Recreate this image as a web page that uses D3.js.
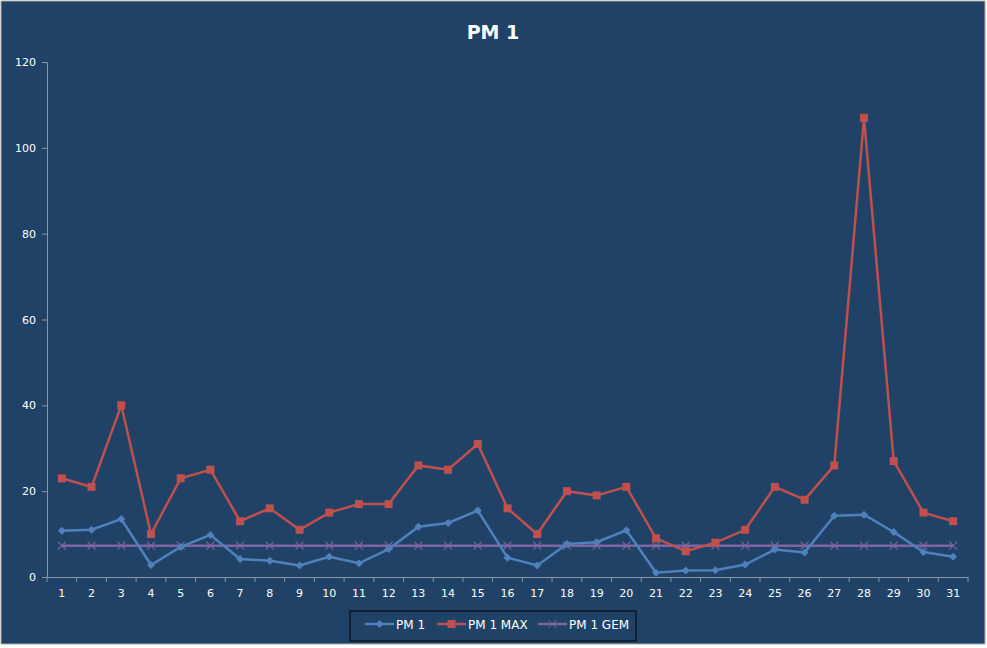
<!DOCTYPE html><html><head><meta charset="utf-8"><script src="https://cdn.jsdelivr.net/npm/d3@7"></script>
<style>body{margin:0;background:#fff}text{font-family:"DejaVu Sans",sans-serif}</style></head><body>
<svg id="c" width="987" height="648"></svg>
<script>
const days=d3.range(1,32);
const pm1=[10.8,11,13.5,2.8,7,9.8,4.2,3.8,2.7,4.7,3.2,6.5,11.7,12.6,15.5,4.5,2.7,7.7,8.1,10.9,1,1.5,1.6,2.9,6.4,5.7,14.3,14.5,10.5,5.8,4.7];
const pm1max=[23,21,40,10,23,25,13,16,11,15,17,17,26,25,31,16,10,20,19,21,9,6,8,11,21,18,26,107,27,15,13];
const pm1gem=days.map(()=>7.3);
const yTicks=[0,20,40,60,80,100,120];
const svg=d3.select("#c");
svg.append("rect").attr("x",1).attr("y",1).attr("width",984).attr("height",643).attr("fill","#1f4266").attr("stroke","#aaa");
svg.append("text").attr("x",493).attr("y",39).attr("text-anchor","middle").attr("fill","#fff").attr("font-size",19).attr("font-weight","bold").text("PM 1");
const x=d3.scaleBand().domain(days).range([47,968]);
const y=d3.scaleLinear().domain([0,120]).range([577,62]);
const cx=d=>x(d)+x.bandwidth()/2;
const ya=svg.append("g").attr("transform","translate(47,0)").call(d3.axisLeft(y).tickValues(yTicks).tickSize(5).tickPadding(6));
const xa=svg.append("g").attr("transform","translate(0,577)").call(d3.axisBottom(x).tickSize(0).tickPadding(12));
[ya,xa].forEach(a=>{a.selectAll("path").attr("stroke","#8a96a5");a.selectAll("line").attr("stroke","#8a96a5");a.selectAll("text").attr("fill","#fff").attr("font-size",11);});
xa.selectAll(".bt").data(d3.range(32)).enter().append("line").attr("x1",i=>47+i*x.step()).attr("x2",i=>47+i*x.step()).attr("y1",0).attr("y2",5).attr("stroke","#8a96a5");
const line=d3.line().x((d,i)=>cx(days[i])).y(d=>y(d));
function series(data,col,marker){
 svg.append("path").attr("d",line(data)).attr("fill","none").attr("stroke",col).attr("stroke-width",2.5);
 const g=svg.append("g");
 data.forEach((v,i)=>{const px=cx(days[i]),py=y(v);
  if(marker==="d")g.append("path").attr("d",`M${px},${py-4}L${px+4},${py}L${px},${py+4}L${px-4},${py}Z`).attr("fill",col);
  else if(marker==="s")g.append("rect").attr("x",px-4).attr("y",py-4).attr("width",8).attr("height",8).attr("fill",col);
  else g.append("path").attr("d",`M${px-4},${py-4}L${px+4},${py+4}M${px-4},${py+4}L${px+4},${py-4}`).attr("stroke",col).attr("stroke-width",1.2);
 });
}
series(pm1gem,"#8064a2","x");
series(pm1,"#4f81bd","d");
series(pm1max,"#c0504d","s");
const lg=svg.append("g");
lg.append("rect").attr("x",350).attr("y",611).attr("width",286).attr("height",30).attr("fill","none").attr("stroke","#000");
[["PM 1","#4f81bd","d",365],["PM 1 MAX","#c0504d","s",437],["PM 1 GEM","#8064a2","x",538]].forEach(([t,c,m,lx])=>{
 lg.append("line").attr("x1",lx).attr("x2",lx+29).attr("y1",624).attr("y2",624).attr("stroke",c).attr("stroke-width",2.5);
 const px=lx+14.5,py=624;
 if(m==="d")lg.append("path").attr("d",`M${px},${py-4}L${px+4},${py}L${px},${py+4}L${px-4},${py}Z`).attr("fill",c);
 else if(m==="s")lg.append("rect").attr("x",px-4).attr("y",py-4).attr("width",8).attr("height",8).attr("fill",c);
 else lg.append("path").attr("d",`M${px-4},${py-4}L${px+4},${py+4}M${px-4},${py+4}L${px+4},${py-4}`).attr("stroke",c);
 lg.append("text").attr("x",lx+31).attr("y",629).attr("fill","#fff").attr("font-size",12).text(t);
});
</script></body></html>
